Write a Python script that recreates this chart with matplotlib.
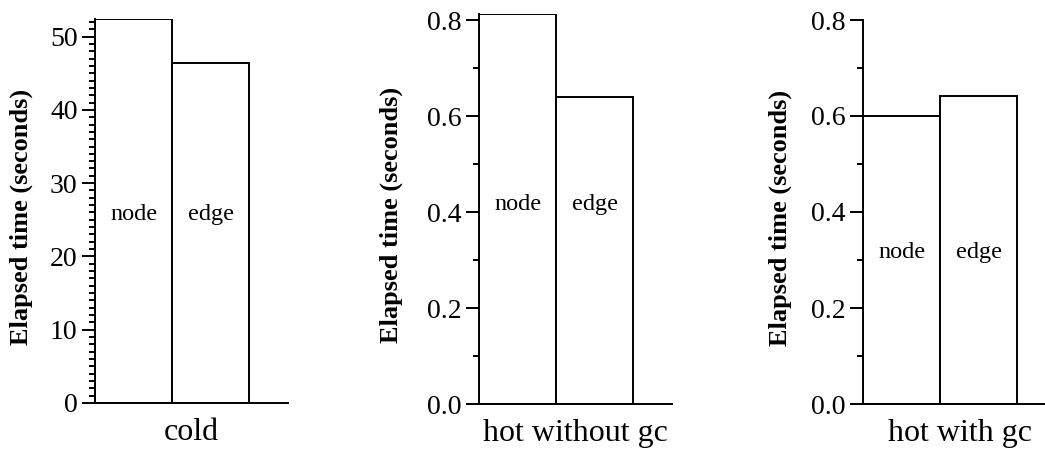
import matplotlib
matplotlib.use("Agg")
import matplotlib.pyplot as plt
from matplotlib.ticker import MultipleLocator

plt.rcParams['font.family'] = ['Liberation Serif', 'DejaVu Serif']

# data
kinds = ['node', 'edge']
scenarios = ['cold', 'hot without gc', 'hot with gc']
cold_times = [52.4, 46.4]
hot_nogc_times = [0.813, 0.640]
hot_gc_times = [0.599, 0.641]
ylims = [52.4, 0.813, 0.8]
major_steps = [10, 0.2, 0.2]
minor_steps = [1, 0.1, 0.1]
label_heights = [25.7, 0.415, 0.315]
tick_fmt = ['{:.0f}', '{:.1f}', '{:.1f}']

all_times = [cold_times, hot_nogc_times, hot_gc_times]

W, H = 1045, 466
fig = plt.figure(figsize=(W / 100, H / 100), dpi=100)

# axes boxes in pixels: left, bottom(from top), width, top(from top)
boxes = [(95, 403, 193, 19), (479, 404, 193, 14), (863, 404, 193, 20)]
ylabel_x = [-0.321, -0.394, -0.368]

for i, (times, box) in enumerate(zip(all_times, boxes)):
    left, bot, width, top = box
    ax = fig.add_axes([left / W, 1 - bot / H, width / W, (bot - top) / H])
    x = list(range(len(kinds)))
    ax.bar(x, times, width=1.0, color='white', edgecolor='black', linewidth=1.4)
    for xi, k in zip(x, kinds):
        ax.text(xi, label_heights[i], k, ha='center', va='center', fontsize=17.5)
    ax.set_xlim(-0.5, 2.0)
    ax.set_ylim(0, ylims[i])
    ax.yaxis.set_major_locator(MultipleLocator(major_steps[i]))
    ax.yaxis.set_minor_locator(MultipleLocator(minor_steps[i]))
    fmt = tick_fmt[i]
    ax.yaxis.set_major_formatter(plt.FuncFormatter(lambda v, p, f=fmt: f.format(v)))
    ax.tick_params(axis='y', which='major', length=9.5, width=1.4, labelsize=20, pad=3)
    ax.tick_params(axis='y', which='minor', length=4.5, width=1.4)
    ax.set_xticks([])
    for s in ['top', 'right']:
        ax.spines[s].set_visible(False)
    for s in ['left', 'bottom']:
        ax.spines[s].set_linewidth(1.4)
    ax.set_xlabel(scenarios[i], fontsize=23, labelpad=11)
    ax.set_ylabel('Elapsed time (seconds)', fontsize=19, fontweight='bold')
    ax.yaxis.set_label_coords(ylabel_x[i], 0.485)

fig.savefig('out.png', dpi=100)
